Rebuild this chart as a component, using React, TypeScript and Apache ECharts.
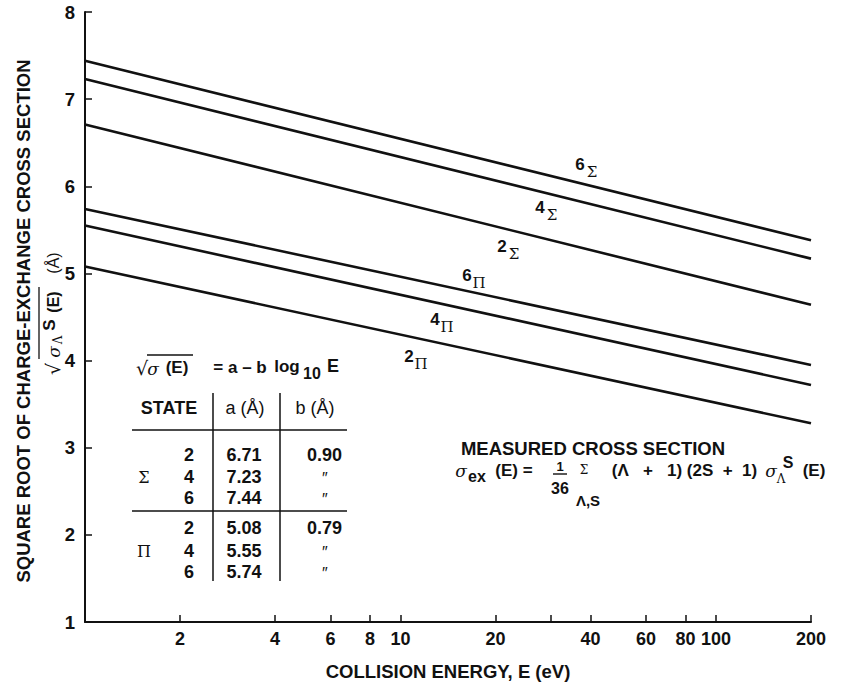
import React, { useEffect, useRef } from 'react';
import * as echarts from 'echarts';

// ---- data ----
const energyEnds = [1, 200]; // eV, ends of each straight line
const seriesNames = ['6Σ', '4Σ', '2Σ', '6Π', '4Π', '2Π'];
const valuesAtStart = [7.44, 7.23, 6.71, 5.74, 5.55, 5.08];
const valuesAtEnd = [5.38, 5.17, 4.64, 3.95, 3.72, 3.28];
const xLabelTicks = [2, 4, 6, 8, 10, 20, 40, 60, 80, 100, 200];
const xAllTicks = [2, 4, 6, 8, 10, 20, 30, 40, 60, 80, 100, 200];
const yMin = 1;
const yMax = 8;

const tableStates = ['2', '4', '6'];
const sigmaA = ['6.71', '7.23', '7.44'];
const sigmaB = ['0.90', '″', '″'];
const piA = ['5.08', '5.55', '5.74'];
const piB = ['0.79', '″', '″'];

const SANS = "'Liberation Sans', Arial, sans-serif";
const SERIF = "'DejaVu Serif', 'Liberation Serif', serif";

function txt(text: string, x: number, y: number, o: any = {}) {
  return {
    type: 'text',
    x,
    y,
    rotation: o.rotation || 0,
    style: {
      text,
      fill: '#111',
      fontSize: o.size || 15,
      fontWeight: o.weight || 'bold',
      fontFamily: o.family || SANS,
      fontStyle: o.style || 'normal',
      align: o.align || 'center',
      verticalAlign: 'middle',
      textAlign: o.align || 'center',
      textVerticalAlign: 'middle',
    },
  };
}

function seg(x1: number, y1: number, x2: number, y2: number, w = 1.5) {
  return {
    type: 'line',
    shape: { x1, y1, x2, y2 },
    style: { stroke: '#111', lineWidth: w },
  };
}

export default function App() {
  const ref = useRef<HTMLDivElement>(null);
  useEffect(() => {
    if (!ref.current) return;
    const chart = echarts.init(ref.current, undefined, { renderer: 'svg' });

    const series = seriesNames.map((name, i) => ({
      name,
      type: 'line',
      symbol: 'none',
      lineStyle: { color: '#111', width: 2.6 },
      data: [
        [Math.log10(energyEnds[0]), valuesAtStart[i]],
        [Math.log10(energyEnds[1]), valuesAtEnd[i]],
      ],
    }));

    // line labels (digit + Greek subscript)
    const lineLabelPos = [
      [580, 164], [540, 207], [502, 246], [467, 275], [435, 319], [409, 356],
    ];
    const lineLabels: any[] = [];
    seriesNames.forEach((n, i) => {
      const [x, y] = lineLabelPos[i];
      lineLabels.push(txt(n[0], x, y, { size: 17 }));
      lineLabels.push(txt(n[1], x + 12, y + 8, { size: 15, weight: 'normal', family: SERIF }));
    });

    // table
    const table: any[] = [];
    table.push(txt('√', 142, 368, { size: 19, weight: 'normal', family: "'DejaVu Sans', sans-serif" }));
    table.push(seg(147, 355, 193, 355, 1.3));
    table.push(txt('σ', 153, 369, { size: 17, weight: 'normal', family: SERIF, style: 'italic' }));
    table.push(txt('(E)', 177, 367, { size: 17 }));
    table.push(txt('= a – b', 240, 367, { size: 17 }));
    table.push(txt('log', 287, 366, { size: 17 }));
    table.push(txt('10', 312, 373, { size: 16 }));
    table.push(txt('E', 333, 366, { size: 18 }));
    // column headers
    table.push(txt('STATE', 169, 408, { size: 18 }));
    table.push(txt('a (Å)', 245, 408, { size: 18, weight: 'normal' }));
    table.push(txt('b (Å)', 315, 408, { size: 18, weight: 'normal' }));
    // lines
    table.push(seg(213, 393, 213, 581));
    table.push(seg(280, 393, 280, 581));
    table.push(seg(132, 430, 347, 430));
    table.push(seg(132, 511, 347, 511));
    // rows
    const sigmaRows = [455, 477, 498];
    const piRows = [528, 551, 572];
    table.push(txt('Σ', 144, 477, { size: 16, weight: 'normal', family: SERIF }));
    table.push(txt('Π', 144, 551, { size: 16, weight: 'normal', family: SERIF }));
    const pushRow = (s: string, a: string, b: string, y: number) => {
      table.push(txt(s, 194, y, { size: 18, align: 'right' }));
      table.push(txt(a, 244, y, { size: 18 }));
      if (b.length > 1) table.push(txt(b, 342, y, { size: 18, align: 'right' }));
      else table.push(txt(b, 324, y + 1, { size: 16, weight: 'normal', style: 'italic' }));
    };
    tableStates.forEach((s, i) => {
      pushRow(s, sigmaA[i], sigmaB[i], sigmaRows[i]);
      pushRow(s, piA[i], piB[i], piRows[i]);
    });

    // measured cross section
    const meas: any[] = [];
    meas.push(txt('MEASURED CROSS SECTION', 593, 448, { size: 18.5 }));
    meas.push(txt('σ', 461, 471, { size: 17, weight: 'normal', family: SERIF, style: 'italic' }));
    meas.push(txt('ex', 477, 476, { size: 16 }));
    meas.push(txt('(E) =', 514, 470, { size: 17 }));
    meas.push(txt('1', 560, 466, { size: 13 }));
    meas.push(seg(553, 474, 567, 474, 1.4));
    meas.push(txt('36', 560, 488, { size: 16 }));
    meas.push(txt('Σ', 584, 470, { size: 12, weight: 'normal', family: SERIF }));
    meas.push(txt('Λ,S', 588, 500, { size: 15 }));
    meas.push(txt('(Λ   +   1)', 647, 470, { size: 17 }));
    meas.push(txt('(2S  +  1)', 722, 470, { size: 17 }));
    meas.push(txt('σ', 771, 471, { size: 17, weight: 'normal', family: SERIF, style: 'italic' }));
    meas.push(txt('Λ', 781, 479, { size: 12, weight: 'normal', family: SERIF }));
    meas.push(txt('S', 788, 462, { size: 16 }));
    meas.push(txt('(E)', 814, 470, { size: 17 }));

    // y-axis title (rotated)
    const yTitle: any = {
      type: 'group',
      children: [
        txt('SQUARE ROOT OF CHARGE-EXCHANGE CROSS SECTION', 23, 321, { size: 18.5, rotation: Math.PI / 2 }),
        {
          type: 'group',
          x: 53,
          y: 377,
          rotation: Math.PI / 2,
          children: [
            txt('√', 8, 0, { size: 19, weight: 'normal', family: "'DejaVu Sans', sans-serif" }),
            seg(18, -14, 90, -14, 1.3),
            txt('σ', 25, 1, { size: 17, weight: 'normal', family: SERIF, style: 'italic' }),
            txt('Λ', 37, 5, { size: 12, weight: 'normal', family: SERIF }),
            txt('S', 52, -4, { size: 17 }),
            txt('(E)', 75, 0, { size: 16 }),
            txt('(Å)', 114, 0, { size: 16, weight: 'normal' }),
          ],
        },
      ],
    };

    chart.setOption({
      animation: false,
      backgroundColor: '#fff',
      grid: { left: 85, right: 30, top: 12, bottom: 56, containLabel: false },
      xAxis: {
        type: 'value',
        min: 0,
        max: Math.log10(200),
        name: 'COLLISION ENERGY, E (eV)',
        nameLocation: 'middle',
        nameGap: 40,
        nameTextStyle: { fontSize: 18.5, fontWeight: 'bold', color: '#111', fontFamily: SANS },
        axisLine: { lineStyle: { color: '#111', width: 2 } },
        axisTick: {
          inside: true,
          length: 7,
          lineStyle: { color: '#111', width: 1.5 },
          customValues: xAllTicks.map((v) => Math.log10(v)),
        },
        axisLabel: {
          margin: 8,
          fontSize: 18,
          fontWeight: 'bold',
          color: '#111',
          fontFamily: SANS,
          customValues: xLabelTicks.map((v) => Math.log10(v)),
          formatter: (v: number) => String(Math.round(Math.pow(10, v))),
        },
        splitLine: { show: false },
      },
      yAxis: {
        type: 'value',
        min: yMin,
        max: yMax,
        interval: 1,
        axisLine: { show: true, lineStyle: { color: '#111', width: 2 } },
        axisTick: { show: true, inside: true, length: 7, lineStyle: { color: '#111', width: 1.5 } },
        axisLabel: { margin: 10, fontSize: 18.5, fontWeight: 'bold', color: '#111', fontFamily: SANS },
        splitLine: { show: false },
      },
      series,
      graphic: [...lineLabels, ...table, ...meas, yTitle],
    });
    return () => chart.dispose();
  }, []);
  return <div ref={ref} style={{ width: 841, height: 686, position: 'absolute', left: 0, top: 0 }} />;
}
